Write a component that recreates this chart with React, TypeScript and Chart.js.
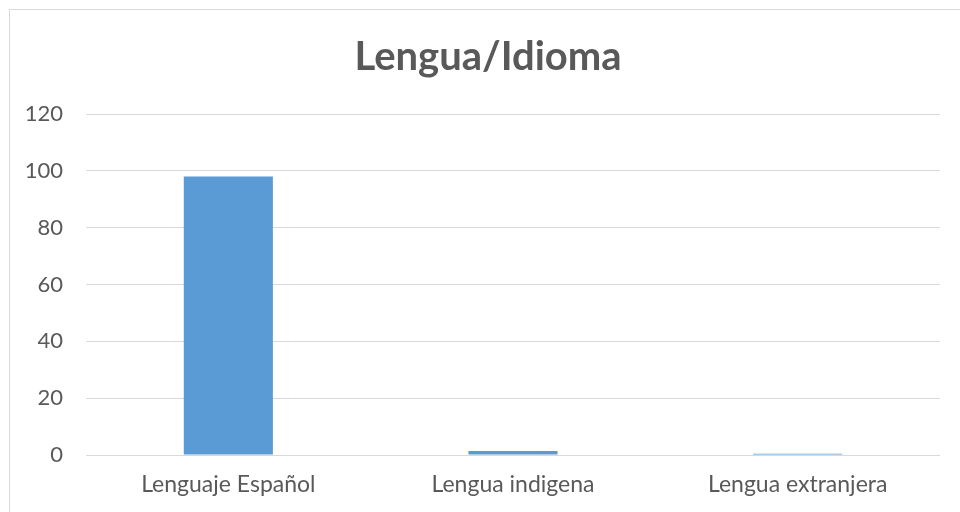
import React, { useEffect, useRef } from "react";
import { Chart, registerables } from "chart.js";

Chart.register(...registerables);

const categories = ["Lenguaje Español", "Lengua indigena", "Lengua extranjera"];
const values = [98, 1.4, 0.4];
const yTicks = [0, 20, 40, 60, 80, 100, 120];
const titleText = "Lengua/Idioma";

const titlePlugin = {
  id: "offsetTitle",
  afterDraw(chart: any) {
    const c = chart.ctx;
    c.save();
    c.font = "bold 40px Lato";
    c.fillStyle = "#595959";
    c.textAlign = "center";
    c.textBaseline = "middle";
    c.fillText(titleText, 488, 57);
    c.restore();
  },
};

export default function App() {
  const ref = useRef<HTMLCanvasElement | null>(null);

  useEffect(() => {
    document.body.style.margin = "0";
    document.body.style.overflow = "hidden";
    const ctx = ref.current!;
    const chart = new Chart(ctx, {
      type: "bar",
      data: {
        labels: categories,
        datasets: [
          {
            data: values,
            backgroundColor: "#5b9bd5",
            borderWidth: 0,
            barPercentage: 1,
            categoryPercentage: 0.313,
          },
        ],
      },
      plugins: [titlePlugin],
      options: {
        animation: false,
        responsive: false,
        maintainAspectRatio: false,
        layout: { padding: { left: 0, right: 20, top: 114, bottom: 0 } },
        plugins: {
          legend: { display: false },
          tooltip: { enabled: false },
          title: { display: false },
        },
        scales: {
          x: {
            grid: { display: false, drawTicks: false },
            border: { display: false },
            ticks: {
              color: "#595959",
              font: { family: "Lato", size: 23 },
              padding: 16,
            },
            afterFit: (s: any) => {
              s.height = 57;
            },
          },
          y: {
            min: 0,
            max: 120,
            afterBuildTicks: (s: any) => {
              s.ticks = yTicks.map((v) => ({ value: v }));
            },
            grid: { color: "#d9d9d9", lineWidth: 1, drawTicks: false },
            border: { display: false },
            ticks: {
              color: "#595959",
              font: { family: "Lato", size: 22 },
              padding: 23,
            },
            afterFit: (s: any) => {
              s.width = 86;
            },
          },
        },
      },
    });
    return () => chart.destroy();
  }, []);

  return (
    <div style={{ position: "relative", width: 960, height: 512, overflow: "hidden", background: "#fff" }}>
      <div
        style={{
          position: "absolute",
          left: 9,
          top: 9,
          width: 1000,
          height: 1000,
          border: "1px solid #d9d9d9",
          boxSizing: "border-box",
        }}
      />
      <canvas ref={ref} width={960} height={512} style={{ position: "absolute", left: 0, top: 0 }} />
    </div>
  );
}
